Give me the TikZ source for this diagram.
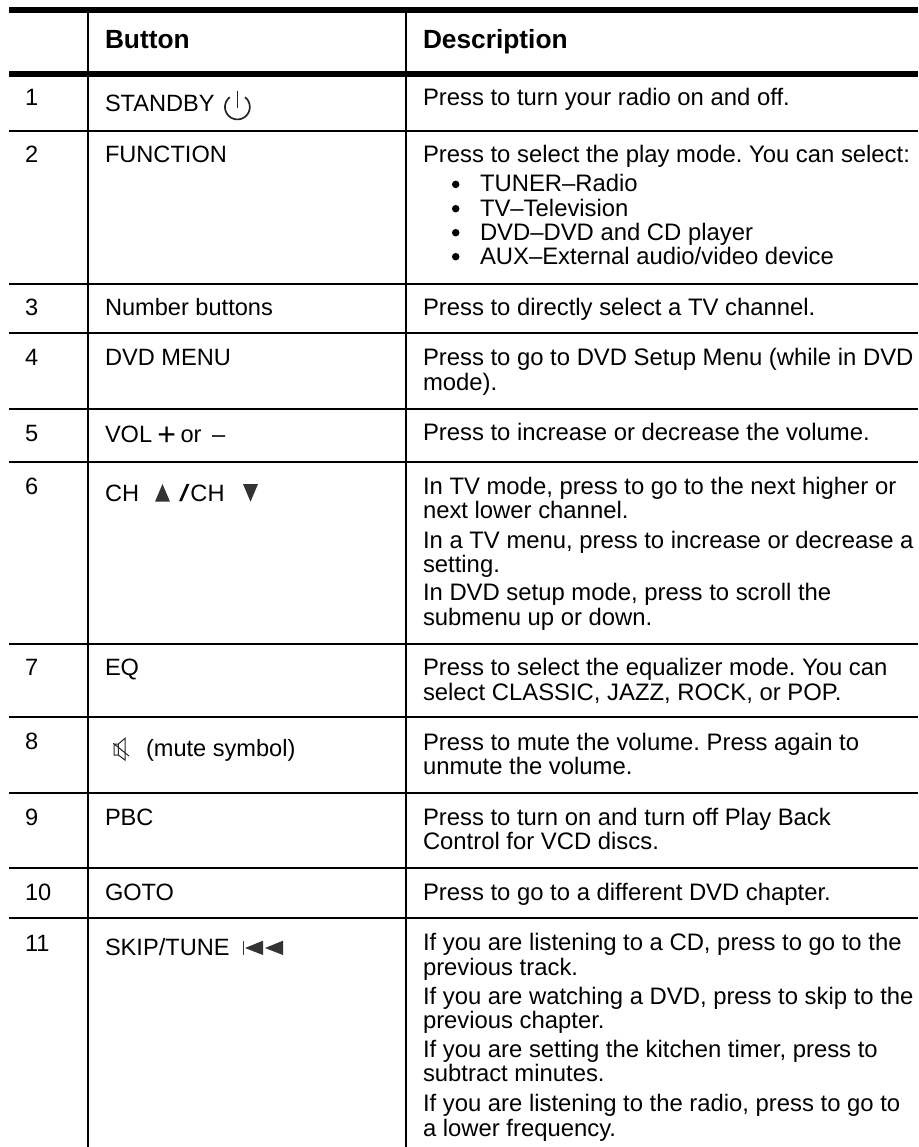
\documentclass[tikz,border=0pt]{standalone}
\usepackage{fontspec}
\setmainfont{Liberation Sans}
\frenchspacing
\newcommand{\Tx}[4]{\node[txt] (#1) at (#2,#3) {#4};}
\newcommand{\Tb}[4]{\node[btn] (#1) at (#2,#3) {#4};}
\tikzset{
  txt/.style={anchor=base west,inner sep=0pt,outer sep=0pt,text=black,font=\fontsize{23.85}{24}\selectfont},
  btn/.style={txt,font=\fontsize{23.6}{24}\selectfont},
  hdr/.style={txt,font=\fontsize{26.3}{26}\selectfont\bfseries},
  heavy/.style={line width=6pt,black},
  rule/.style={line width=1.8pt,black},
  icon/.style={fill=black!80,draw=none},
  bul/.style={circle,fill=black,draw=none,inner sep=0pt,minimum size=7.5pt},
}
\begin{document}
\begin{tikzpicture}[x=1pt,y=-1pt]
\useasboundingbox (0,0) rectangle (918,1147);
\fill[white] (0,0) rectangle (918,1147);
% frame anchors
\coordinate (vaT) at (88,10); \coordinate (vaB) at (88,1147);
\coordinate (vbT) at (406,10); \coordinate (vbB) at (406,1147);
\draw[rule] (vaT) -- (vaB);
\draw[rule] (vbT) -- (vbB);
\foreach \yy/\st/\k in {10/heavy/a,74/heavy/b,130.7/rule/c,284/rule/d,333.3/rule/e,408.7/rule/f,461.8/rule/g,643.7/rule/h,717.3/rule/i,792.7/rule/j,867.7/rule/k,918.3/rule/l}{
  \coordinate (hl\k) at (9,\yy); \coordinate (hr\k) at (918,\yy);
  \draw[\st] (hl\k) -- (hr\k);
}
% header
\node[hdr] (hb) at (105,49) {Button};
\node[hdr] (hd) at (423,49) {Description};
% numbers
\Tb{n1}{25}{106}{1}
\Tb{n2}{25}{162.7}{2}
\Tb{n3}{25}{315.5}{3}
\Tb{n4}{25}{365.7}{4}
\Tb{n5}{25}{441}{5}
\Tb{n6}{25}{494}{6}
\Tb{n7}{25}{675.7}{7}
\Tb{n8}{25}{749.5}{8}
\Tb{n9}{25}{825}{9}
\Tb{n10}{25}{900}{10}
\Tb{n11}{25}{951}{11}
% buttons
\Tb{b1}{105}{111.7}{STANDBY}
\draw[line width=1.7pt,black!85] plot[smooth,domain=-232:52,samples=40] ({237.4+12.4*cos(\x)},{107-12.4*sin(\x)});
\coordinate (pwT) at (237.4,90.7); \coordinate (pwB) at (237.4,108);
\draw[line width=1.7pt,black!85] (pwT) -- (pwB);
\Tb{b2}{105}{162.7}{FUNCTION}
\Tb{b3}{105}{315.5}{Number buttons}
\Tb{b4}{105}{365.7}{DVD MENU}
\Tb{b5}{105}{442.7}{VOL\kern-1.4pt\ \raisebox{-3pt}{\fontsize{32}{32}\selectfont +}\kern-2pt\ or\kern 4pt\ –}
\Tb{b6a}{105}{501.7}{CH}
\fill[icon] (155,501.7) -- (162.5,484) -- (170,501.7) -- cycle;
\Tb{b6b}{179}{501.7}{\scalebox{1.6}[1]{/}\kern 1pt CH}
\fill[icon] (243,484) -- (258,484) -- (250.5,501.7) -- cycle;
\Tb{b7}{105}{675.7}{EQ}
\draw[line width=1pt,black!85] (114,744) -- (118.3,744) -- (125,738.3) -- (125,760) -- (118.3,755) -- (114,755) -- cycle (118.3,744) -- (118.3,755) (113.3,743.3) -- (129,756);
\Tb{b8}{146}{756.7}{(mute symbol)}
\Tb{b9}{105}{825}{PBC}
\Tb{b10}{105}{900}{GOTO}
\Tb{b11}{105}{955}{SKIP/TUNE}
\fill[icon] (242.5,940.7) rectangle (244.3,955);
\fill[icon] (245,948) -- (263,940.7) -- (263,955) -- cycle;
\fill[icon] (265,948) -- (283,940.7) -- (283,955) -- cycle;
% descriptions
\Tx{d1}{423}{106}{Press to turn your radio on and off.}
\Tx{d2}{423}{162.7}{Press to select the play mode. You can select:}
\node[bul] (b2a) at (455.7,184.4) {};
\node[bul] (b2b) at (455.7,208.7) {};
\node[bul] (b2c) at (455.7,232.7) {};
\node[bul] (b2d) at (455.7,256.7) {};
\Tx{d2a}{480}{192}{TUNER–Radio}
\Tx{d2b}{480}{216.5}{TV–Television}
\Tx{d2c}{480}{240.7}{DVD–DVD and CD player}
\Tx{d2d}{480}{265}{AUX–External audio/video device}
\Tx{d3}{423}{315.5}{Press to directly select a TV channel.}
\Tx{d4a}{423}{365.7}{Press to go to DVD Setup Menu (while in DVD}
\Tx{d4b}{423}{390}{mode).}
\Tx{d5}{423}{440.7}{Press to increase or decrease the volume.}
\Tx{d6a}{423}{494}{In TV mode, press to go to the next higher or}
\Tx{d6b}{423}{518.3}{next lower channel.}
\Tx{d6c}{423}{548.3}{In a TV menu, press to increase or decrease a}
\Tx{d6d}{423}{572.7}{setting.}
\Tx{d6e}{423}{600.7}{In DVD setup mode, press to scroll the}
\Tx{d6f}{423}{625}{submenu up or down.}
\Tx{d7a}{423}{675.7}{Press to select the equalizer mode. You can}
\Tx{d7b}{423}{700}{select CLASSIC, JAZZ, ROCK, or POP.}
\Tx{d8a}{423}{750}{Press to mute the volume. Press again to}
\Tx{d8b}{423}{774.3}{unmute the volume.}
\Tx{d9a}{423}{825}{Press to turn on and turn off Play Back}
\Tx{d9b}{423}{849}{Control for VCD discs.}
\Tx{d10}{423}{900}{Press to go to a different DVD chapter.}
\Tx{d11a}{423}{950.7}{If you are listening to a CD, press to go to the}
\Tx{d11b}{423}{975}{previous track.}
\Tx{d11c}{423}{1004.3}{If you are watching a DVD, press to skip to the}
\Tx{d11d}{423}{1028.3}{previous chapter.}
\Tx{d11e}{423}{1057.3}{If you are setting the kitchen timer, press to}
\Tx{d11f}{423}{1081.7}{subtract minutes.}
\Tx{d11g}{423}{1111.7}{If you are listening to the radio, press to go to}
\Tx{d11h}{423}{1136}{a lower frequency.}
\end{tikzpicture}
\end{document}
